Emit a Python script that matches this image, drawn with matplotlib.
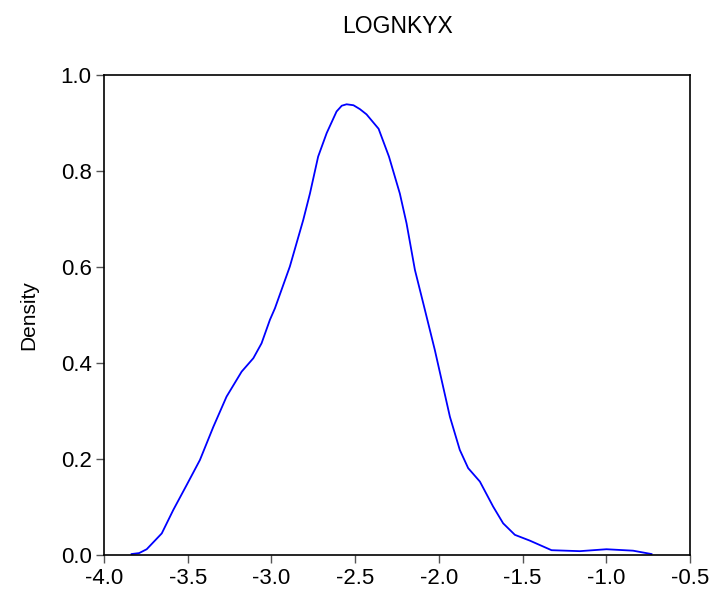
import matplotlib
matplotlib.use("Agg")
import matplotlib.pyplot as plt
import matplotlib.ticker as mticker

plt.rcParams['font.family'] = ['Liberation Sans', 'DejaVu Sans']

# kernel density estimate of LOGNKYX
x_vals = [-3.835, -3.790, -3.745, -3.655, -3.586, -3.506, -3.427, -3.347,
          -3.268, -3.178, -3.108, -3.059, -3.009, -2.979, -2.890, -2.810,
          -2.770, -2.721, -2.670, -2.611, -2.580, -2.551, -2.510, -2.472,
          -2.432, -2.360, -2.298, -2.233, -2.193, -2.143, -2.090, -2.024,
          -1.934, -1.875, -1.825, -1.755, -1.676, -1.616, -1.546, -1.457,
          -1.327, -1.158, -0.999, -0.840, -0.730]
density = [0.002, 0.004, 0.012, 0.045, 0.094, 0.146, 0.198, 0.267,
           0.330, 0.382, 0.410, 0.441, 0.490, 0.514, 0.601, 0.698,
           0.753, 0.830, 0.879, 0.924, 0.936, 0.939, 0.937, 0.929,
           0.918, 0.888, 0.830, 0.753, 0.691, 0.594, 0.520, 0.427,
           0.288, 0.219, 0.181, 0.153, 0.101, 0.066, 0.042, 0.030,
           0.010, 0.008, 0.012, 0.009, 0.002]

x_ticks = [-4.0, -3.5, -3.0, -2.5, -2.0, -1.5, -1.0, -0.5]
y_ticks = [0.0, 0.2, 0.4, 0.6, 0.8, 1.0]

fig = plt.figure(figsize=(7.12, 5.93), dpi=100)
ax = fig.add_axes([104 / 712, 38 / 593, 586 / 712, 480 / 593])

ax.plot(x_vals, density, color='#0000ff', linewidth=1.3,
        solid_joinstyle='round')

ax.set_xlim(-4.0, -0.5)
ax.set_ylim(0.0, 1.0)
ax.xaxis.set_major_locator(mticker.FixedLocator(x_ticks))
ax.yaxis.set_major_locator(mticker.FixedLocator(y_ticks))
ax.xaxis.set_major_formatter(mticker.FormatStrFormatter('%.1f'))
ax.yaxis.set_major_formatter(mticker.FormatStrFormatter('%.1f'))
ax.tick_params(direction='out', length=6, width=1, color='#555555',
               labelsize=16, pad=3, top=False, right=False)

for side in ax.spines.values():
    side.set_linewidth(1.2)
    side.set_color('black')

ax.set_ylabel('Density', fontsize=15, labelpad=16)
ax.set_title('LOGNKYX', fontsize=16.5, pad=30)

fig.savefig('out.png', dpi=100)
